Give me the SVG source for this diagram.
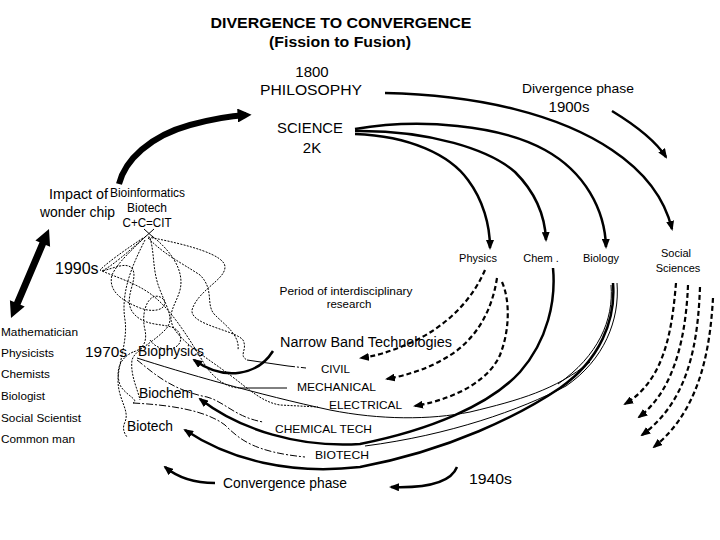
<svg xmlns="http://www.w3.org/2000/svg" width="720" height="540" viewBox="0 0 720 540">
<style>
text{font-family:"Liberation Sans",Arial,sans-serif;fill:#000}
.t{font-weight:bold;font-size:15.5px}
.m{font-size:15px}
.s{font-size:11px}
.l{font-size:14px}
.thick{fill:none;stroke:#000;stroke-width:2.5}
.thin{fill:none;stroke:#000;stroke-width:1}
.dash{fill:none;stroke:#000;stroke-width:2.2;stroke-dasharray:5 3}
.dot{fill:none;stroke:#000;stroke-width:1;stroke-dasharray:2 1.3}
.dd{fill:none;stroke:#000;stroke-width:1;stroke-dasharray:7 2 2 2}
</style>
<defs>
<marker id="arr" viewBox="0 0 10 8" refX="8" refY="4" markerWidth="10" markerHeight="8" markerUnits="userSpaceOnUse" orient="auto"><path d="M0,0 L10,4 L0,8 z"/></marker>
<marker id="big" viewBox="0 0 10 10" refX="6" refY="5" markerWidth="14" markerHeight="14" markerUnits="userSpaceOnUse" orient="auto"><path d="M0,0 L10,5 L0,10 z"/></marker>
</defs>
<rect width="720" height="540" fill="#fff"/>

<g id="title">
<text class="t" x="341" y="28" text-anchor="middle" textLength="261" lengthAdjust="spacingAndGlyphs">DIVERGENCE TO CONVERGENCE</text>
<text class="t" x="340" y="47" text-anchor="middle" textLength="142" lengthAdjust="spacingAndGlyphs">(Fission to Fusion)</text>
</g>
<g id="philosophy">
<text class="m" x="312" y="77" text-anchor="middle">1800</text>
<text class="m" x="311" y="95" text-anchor="middle" textLength="102" lengthAdjust="spacingAndGlyphs">PHILOSOPHY</text>
</g>
<g id="divergence">
<text x="578" y="93" text-anchor="middle" font-size="13.5" textLength="112" lengthAdjust="spacingAndGlyphs">Divergence phase</text>
<text class="m" x="569" y="112" text-anchor="middle">1900s</text>
</g>
<g id="science">
<text class="m" x="310" y="133" text-anchor="middle" textLength="66" lengthAdjust="spacingAndGlyphs">SCIENCE</text>
<text class="m" x="312" y="153" text-anchor="middle">2K</text>
</g>
<g id="impact">
<text x="49" y="199" font-size="14.5" textLength="59" lengthAdjust="spacingAndGlyphs">Impact of</text>
<text x="40" y="217" font-size="14" textLength="75" lengthAdjust="spacingAndGlyphs">wonder chip</text>
</g>
<g id="cit">
<text x="110" y="197" font-size="12" textLength="75" lengthAdjust="spacingAndGlyphs">Bioinformatics</text>
<text x="147" y="212" font-size="12" text-anchor="middle">Biotech</text>
<text x="147" y="227" font-size="12" text-anchor="middle" textLength="49" lengthAdjust="spacingAndGlyphs">C+C=CIT</text>
</g>
<g id="y1990"><text x="55" y="274" font-size="16">1990s</text></g>
<g id="physics"><text class="s" x="478" y="262" text-anchor="middle">Physics</text></g>
<g id="chem"><text class="s" x="541" y="262" text-anchor="middle">Chem .</text></g>
<g id="biology"><text class="s" x="601" y="262" text-anchor="middle">Biology</text></g>
<g id="social"><text class="s" x="676" y="257" text-anchor="middle">Social</text><text class="s" x="678" y="272" text-anchor="middle">Sciences</text></g>
<g id="period">
<text x="346" y="295" font-size="11.5" text-anchor="middle" textLength="133" lengthAdjust="spacingAndGlyphs">Period of interdisciplinary</text>
<text x="349" y="308" font-size="11.5" text-anchor="middle">research</text>
</g>
<g id="people">
<text x="1" y="336" font-size="11.5" textLength="77" lengthAdjust="spacingAndGlyphs">Mathematician</text>
<text x="1" y="357" font-size="11.5" textLength="53" lengthAdjust="spacingAndGlyphs">Physicists</text>
<text x="1" y="378" font-size="11.5" textLength="49" lengthAdjust="spacingAndGlyphs">Chemists</text>
<text x="1" y="400" font-size="11.5" textLength="44" lengthAdjust="spacingAndGlyphs">Biologist</text>
<text x="1" y="422" font-size="11.5" textLength="80" lengthAdjust="spacingAndGlyphs">Social Scientist</text>
<text x="1" y="443" font-size="11.5" textLength="74" lengthAdjust="spacingAndGlyphs">Common man</text>
</g>
<g id="y1970"><text x="85" y="357" font-size="15.5" textLength="42" lengthAdjust="spacingAndGlyphs">1970s</text></g>
<g id="biophysics"><text class="l" x="138" y="356" textLength="66" lengthAdjust="spacingAndGlyphs">Biophysics</text></g>
<g id="biochem"><text class="l" x="139" y="398" textLength="54" lengthAdjust="spacingAndGlyphs">Biochem</text></g>
<g id="biotech"><text class="l" x="127" y="431" textLength="46" lengthAdjust="spacingAndGlyphs">Biotech</text></g>
<g id="narrow"><text class="l" x="280" y="347" textLength="172" lengthAdjust="spacingAndGlyphs">Narrow Band  Technologies</text></g>
<g id="civil"><text class="s" x="321" y="373" textLength="29" lengthAdjust="spacingAndGlyphs">CIVIL</text></g>
<g id="mechanical"><text class="s" x="297" y="391" textLength="79" lengthAdjust="spacingAndGlyphs">MECHANICAL</text></g>
<g id="electrical"><text class="s" x="329" y="409" textLength="73" lengthAdjust="spacingAndGlyphs">ELECTRICAL</text></g>
<g id="chemtech"><text class="s" x="275" y="433" textLength="97" lengthAdjust="spacingAndGlyphs">CHEMICAL TECH</text></g>
<g id="biotechtech"><text class="s" x="315" y="459" textLength="54" lengthAdjust="spacingAndGlyphs">BIOTECH</text></g>
<g id="convergence"><text class="l" x="223" y="488" textLength="124" lengthAdjust="spacingAndGlyphs">Convergence phase</text></g>
<g id="y1940"><text x="469" y="484" font-size="15.5" textLength="43" lengthAdjust="spacingAndGlyphs">1940s</text></g>

<g id="connectors">
<path d="M119,184 C125,160 150,136 190,125 C212,119 230,116 246,115" fill="none" stroke="#000" stroke-width="6" marker-end="url(#big)"/>
<polygon points="49,229 50.1,246.8 45.9,245.1 20.5,304.7 24.7,306.4 11,318 9.9,300.2 14.1,301.9 39.5,242.3 35.4,240.6"/>
<path class="thick" d="M385,93 C480,95 560,115 612,150 C645,172 665,200 672,229" marker-end="url(#arr)"/>
<path class="thick" d="M612,111 C635,125 655,140 666,157" marker-end="url(#arr)"/>
<path class="thick" d="M355,129 C420,118 500,125 545,150 C585,172 605,210 606,247" marker-end="url(#arr)"/>
<path class="thick" d="M355,131 C430,130 490,150 515,172 C535,192 545,215 546,240" marker-end="url(#arr)"/>
<path class="thick" d="M355,134 C410,136 450,155 468,180 C483,200 490,225 490,248" marker-end="url(#arr)"/>
<path class="dash" d="M485,270 C470,305 440,330 410,343 C390,352 375,356 361,358" marker-end="url(#arr)"/>
<path class="dash" d="M497,278 C492,310 478,335 455,352 C432,368 408,375 387,379" marker-end="url(#arr)"/>
<path class="dash" d="M502,282 C510,300 510,330 500,355 C490,378 460,398 415,406" marker-end="url(#arr)"/>
<path class="dash" d="M676,283 C672,330 665,380 625,404" marker-end="url(#arr)"/>
<path class="dash" d="M688,285 C686,335 675,390 639,417" marker-end="url(#arr)"/>
<path class="dash" d="M700,287 C698,340 690,400 642,435" marker-end="url(#arr)"/>
<path class="dash" d="M713,298 C710,350 700,410 654,447" marker-end="url(#arr)"/>
<path class="thick" d="M553,268 C556,300 548,340 520,372 C490,405 430,430 360,444 C300,448 240,430 200,399" marker-end="url(#arr)"/>
<path class="thick" d="M613,283 C616,320 600,360 560,388 C520,415 450,450 360,467 C290,475 230,460 185,430" marker-end="url(#arr)"/>
<path class="thin" d="M617,283 C620,320 604,360 566,386"/>
<path class="thin" d="M611,285 C614,320 598,356 558,384"/>
<path class="thin" d="M590,362 C555,390 520,400 470,412 C430,420 380,420 330,410 C260,395 180,372 137,358"/>
<path class="thin" d="M566,386 C520,410 450,435 365,446"/>
<path class="thick" d="M273,351 C258,375 225,382 194,360" marker-end="url(#arr)"/>
<path class="thick" d="M215,483 C195,483 177,477 165,467" marker-end="url(#arr)"/>
<path class="thick" d="M457,467 C450,485 420,488 391,487" marker-end="url(#arr)"/>
<path class="thin" d="M247,360 L288,366"/>
<path class="dd" d="M288,366 L306,368"/>
<path class="thin" d="M240,388 L287,388"/>
<path class="dd" d="M133,403 C170,405 205,410 225,425 C240,440 255,452 305,457"/>
<path class="dd" d="M137,360 C150,370 170,390 207,397 C225,402 235,417 263,422"/>
<path class="thin" d="M144,229 L154,238 M154,229 L144,238"/>
<path class="dot" d="M148,237 C190,245 225,255 225,267 C225,280 198,290 192,310 C190,325 235,330 243,340 C248,350 238,355 247,360"/>
<path class="dot" d="M143,238 C125,250 108,262 100,270 C112,276 135,282 152,295 C172,310 190,340 205,365 C215,380 228,388 240,388"/>
<path class="dot" d="M145,237 C128,252 112,266 102,271 C115,268 125,262 132,268 C140,280 120,300 135,315 C150,330 175,320 180,335 C185,350 160,355 150,340"/>
<path class="dot" d="M150,238 C155,255 152,270 160,290 C168,310 175,320 165,330 C150,345 135,350 132,360 C130,375 138,390 140,400"/>
<path class="dot" d="M152,236 C170,250 185,270 180,290 C176,305 165,315 175,330 C185,345 210,360 230,375 C250,390 262,402 280,405 L318,407"/>
<path class="dot" d="M145,240 C135,260 120,290 125,320 C128,340 118,365 118,380 C118,400 130,410 125,422 C122,428 124,433 127,437"/>
<path class="dot" d="M146,236 C132,250 118,262 112,275 C108,290 120,300 140,308 C160,315 170,305 162,298 C150,290 140,310 145,330 C148,345 140,350 133,352"/>
<path class="dot" d="M148,238 C165,255 180,262 200,275 C215,290 205,305 215,315 C225,325 240,335 238,350"/>
<path class="dot" d="M133,352 C120,358 115,370 120,385 C125,395 140,400 133,403"/>
</g>
</svg>
